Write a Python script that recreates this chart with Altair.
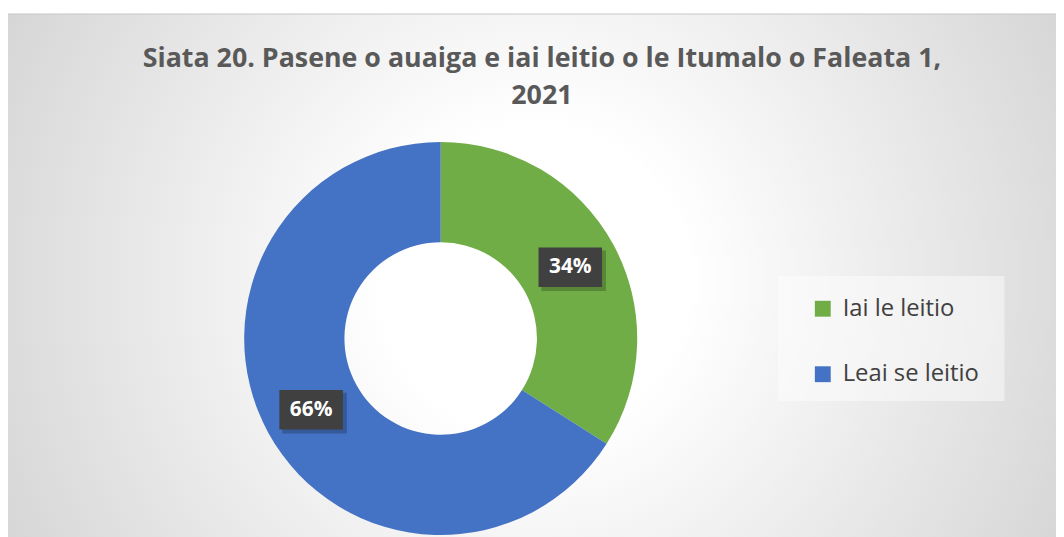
import altair as alt
import pandas as pd

categories = ["Iai le leitio", "Leai se leitio"]
values = [34, 66]
colors = ["#70AD47", "#4472C4"]
title_lines = ["Siata 20. Pasene o auaiga e iai leitio o le Itumalo o Faleata 1,", "2021"]

df = pd.DataFrame({"category": categories, "value": values, "idx": list(range(len(categories)))})

CX, CY = 436, 331
R_OUT, R_IN = 198, 97
R_LAB = 149
BW, BH = 32, 20

W, H = 1056, 529
FONT = "Open Sans"

bg = alt.Chart(pd.DataFrame({"a": [0]})).mark_rect(
    fill={
        "gradient": "radial",
        "x1": 0.5, "y1": 0.5, "r1": 0,
        "x2": 0.5, "y2": 0.5, "r2": 0.72,
        "stops": [
            {"offset": 0, "color": "#ffffff"},
            {"offset": 0.2, "color": "#ffffff"},
            {"offset": 1, "color": "#c6c6c6"},
        ],
    },
    stroke="#c8c8c8",
    strokeWidth=1,
).encode(x=alt.value(-1), x2=alt.value(1062), y=alt.value(4), y2=alt.value(540))

title1 = alt.Chart(pd.DataFrame({"a": [0]})).mark_text(
    font=FONT, fontSize=27, fontWeight="bold", color="#595959",
    align="center", baseline="middle",
).encode(x=alt.value(538), y=alt.value(49), text=alt.value(title_lines[0]))

title2 = alt.Chart(pd.DataFrame({"a": [0]})).mark_text(
    font=FONT, fontSize=27, fontWeight="bold", color="#595959",
    align="center", baseline="middle",
).encode(x=alt.value(538), y=alt.value(87), text=alt.value(title_lines[1]))

legend_box = alt.Chart(pd.DataFrame({"a": [0]})).mark_rect(
    fill="#ffffff", opacity=0.45
).encode(x=alt.value(776), x2=alt.value(1004), y=alt.value(268), y2=alt.value(394))

base = alt.Chart(df)

arc = base.mark_arc(outerRadius=R_OUT, innerRadius=R_IN).encode(
    theta=alt.Theta("value:Q", stack=True),
    color=alt.Color(
        "category:N",
        scale=alt.Scale(domain=categories, range=colors),
        legend=alt.Legend(
            orient="none", legendX=809, legendY=289, title=None,
            symbolType="square", symbolSize=256, symbolStrokeWidth=0,
            labelFontSize=24, labelFont=FONT, labelColor="#404040",
            rowPadding=42, labelOffset=8, padding=0,
        ),
    ),
    order=alt.Order("idx:Q"),
    x=alt.value(CX),
    y=alt.value(CY),
)

lab = base.transform_window(
    cum="sum(value)", sort=[alt.SortField("idx")], frame=[None, 0]
).transform_joinaggregate(total="sum(value)").transform_calculate(
    ang="(datum.cum - datum.value/2)/datum.total*2*PI",
    px=f"{CX} + {R_LAB}*sin(datum.ang)",
    py=f"{CY} - {R_LAB}*cos(datum.ang)",
    label="round(datum.value/datum.total*100) + '%'",
).transform_calculate(
    x0=f"datum.px - {BW}", x1=f"datum.px + {BW}",
    y0=f"datum.py - {BH}", y1=f"datum.py + {BH}",
    sx0=f"datum.px - {BW} + 3", sx1=f"datum.px + {BW} + 4",
    sy0=f"datum.py - {BH} + 3", sy1=f"datum.py + {BH} + 4",
)

shadow = lab.mark_rect(color="#000000", opacity=0.22).encode(
    x=alt.X("sx0:Q", scale=None, axis=None), x2="sx1:Q",
    y=alt.Y("sy0:Q", scale=None, axis=None), y2="sy1:Q",
)
box = lab.mark_rect(color="#404040").encode(
    x=alt.X("x0:Q", scale=None, axis=None), x2="x1:Q",
    y=alt.Y("y0:Q", scale=None, axis=None), y2="y1:Q",
)
txt = lab.mark_text(
    color="#ffffff", font="Open Sans", fontSize=21, fontWeight="bold",
    align="center", baseline="middle",
).encode(
    x=alt.X("px:Q", scale=None, axis=None),
    y=alt.Y("py:Q", scale=None, axis=None),
    text="label:N",
)

chart = alt.layer(bg, title1, title2, legend_box, arc, shadow, box, txt).properties(
    width=W, height=H, padding=0, autosize=alt.AutoSizeParams(type="none"),
    background="#ffffff",
).configure_view(stroke=None)

chart.save("out.html", embed_options={"renderer": "svg", "actions": False})
